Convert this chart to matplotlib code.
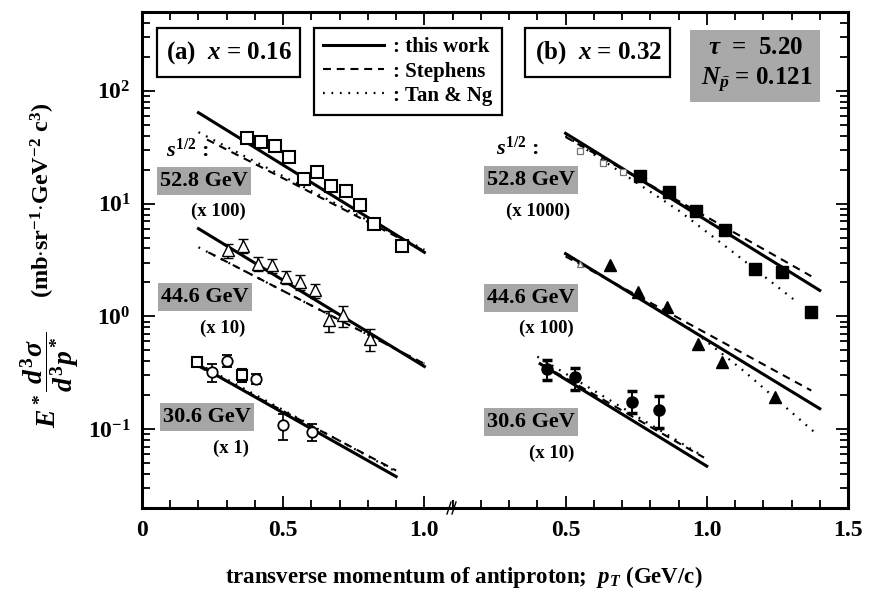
import math

import matplotlib
matplotlib.use("Agg")
import matplotlib.pyplot as plt
from matplotlib.lines import Line2D
from matplotlib.patches import Rectangle
from matplotlib.ticker import FixedLocator, FuncFormatter, LogLocator, MultipleLocator, NullFormatter

plt.rcParams["font.family"] = ["Liberation Serif", "DejaVu Serif"]
plt.rcParams["font.weight"] = "bold"
plt.rcParams["mathtext.fontset"] = "custom"
plt.rcParams["mathtext.rm"] = "Liberation Serif:bold"
plt.rcParams["mathtext.it"] = "Liberation Serif:italic:bold"
plt.rcParams["mathtext.bf"] = "Liberation Serif:bold"

W, H = 886, 596

# ---- panel (a): x_F = 0.16 -------------------------------------------------
# sqrt(s) = 52.8 GeV (scaled x 100)
a528_pt = [0.371, 0.422, 0.472, 0.519, 0.572, 0.619, 0.670, 0.722, 0.773, 0.820, 0.921]
a528_ed = [37.9, 34.9, 32.6, 25.7, 16.5, 18.9, 14.2, 13.0, 9.75, 6.6, 4.25]

# sqrt(s) = 44.6 GeV (scaled x 10)
a446_pt = [0.306, 0.359, 0.412, 0.460, 0.511, 0.560, 0.613, 0.661, 0.712, 0.809]
a446_ed = [3.84, 4.25, 2.93, 2.83, 2.23, 2.01, 1.70, 0.92, 1.02, 0.635]
a446_err = [0.55, 0.60, 0.40, 0.40, 0.30, 0.30, 0.25, 0.20, 0.22, 0.14]

# sqrt(s) = 30.6 GeV (x 1), two data sets
a306_sq_pt = [0.194, 0.353]
a306_sq_ed = [0.394, 0.300]
a306_sq_err = [0.03, 0.04]
a306_ci_pt = [0.247, 0.300, 0.404, 0.501, 0.602]
a306_ci_ed = [0.321, 0.403, 0.281, 0.108, 0.0946]
a306_ci_err = [0.06, 0.05, 0.03, 0.028, 0.016]

# model curves: (pT values, invariant cross section)
a528_fits = {"this": ([0.20, 1.00], [64.0, 3.7]),
             "steph": ([0.23, 0.54, 1.00], [37.0, 14.9, 3.8]),
             "tan": ([0.20, 1.00], [43.0, 3.9])}
a446_fits = {"this": ([0.20, 1.00], [6.0, 0.36]),
             "steph": ([0.235, 1.00], [3.7, 0.38]),
             "tan": ([0.20, 1.00], [4.1, 0.38])}
a306_fits = {"this": ([0.20, 0.90], [0.37, 0.038]),
             "steph": ([0.20, 0.90], [0.36, 0.043]),
             "tan": ([0.20, 0.90], [0.38, 0.042])}

# ---- panel (b): x_F = 0.32 -------------------------------------------------
b528_pt = [0.764, 0.867, 0.962, 1.065, 1.171, 1.265, 1.369]
b528_ed = [17.7, 12.8, 8.67, 5.85, 2.64, 2.47, 1.09]
b528_low_pt = [0.551, 0.634, 0.704]
b528_low_ed = [29.4, 22.8, 19.2]

b446_pt = [0.657, 0.758, 0.858, 0.970, 1.053, 1.242]
b446_ed = [2.83, 1.64, 1.21, 0.573, 0.394, 0.193]
b446_low_pt = [0.551]
b446_low_ed = [2.92]

b306_pt = [0.433, 0.533, 0.734, 0.832]
b306_ed = [0.344, 0.290, 0.175, 0.149]
b306_lo = [0.072, 0.069, 0.036, 0.047]
b306_hi = [0.064, 0.062, 0.041, 0.046]

b528_fits = {"this": ([0.50, 1.40], [42.0, 1.7]),
             "steph": ([0.50, 1.37], [39.0, 2.27]),
             "tan": ([0.50, 0.90, 1.10, 1.31], [40.0, 8.7, 3.6, 1.4])}
b446_fits = {"this": ([0.50, 1.40], [3.6, 0.152]),
             "steph": ([0.50, 1.37], [3.4, 0.22]),
             "tan": ([0.50, 0.95, 1.13, 1.39], [3.6, 0.75, 0.33, 0.09])}
b306_fits = {"this": ([0.41, 1.00], [0.38, 0.047]),
             "steph": ([0.42, 0.99], [0.37, 0.056]),
             "tan": ([0.40, 0.99], [0.44, 0.057])}

MODEL_LABELS = {"this": ": this work", "steph": ": Stephens", "tan": ": Tan & Ng"}
MODEL_STYLE = {
    "this": dict(color="black", lw=2.2, ls="-"),
    "steph": dict(color="black", lw=1.5, dashes=(3.8, 2.8)),
    "tan": dict(color="black", lw=1.6, dashes=(0.8, 3.0)),
}


def fig_xy(x, y):
    return x / W, 1 - y / H


def draw_fits(ax, fits):
    for key, (xs, ys) in fits.items():
        ax.plot(xs, ys, zorder=2, **MODEL_STYLE[key])


def style_axes(ax, side):
    ax.set_yscale("log")
    ax.set_ylim(0.02, 500)
    for sp in ax.spines.values():
        sp.set_linewidth(2.2)
    ax.yaxis.set_major_locator(FixedLocator([0.1, 1, 10, 100]))
    ax.yaxis.set_minor_locator(LogLocator(base=10, subs=range(2, 10), numticks=20))
    ax.yaxis.set_minor_formatter(NullFormatter())
    ax.xaxis.set_minor_locator(MultipleLocator(0.1))
    ax.tick_params(which="both", direction="in", top=True, width=1.3, labelsize=17)
    ax.tick_params(axis="x", pad=9)
    ax.tick_params(axis="y", pad=8)
    ax.tick_params(which="major", length=9)
    ax.tick_params(which="minor", length=6)
    if side == "left":
        ax.spines["right"].set_visible(False)
        ax.tick_params(which="both", right=False, left=True)
        ax.yaxis.set_major_formatter(FuncFormatter(lambda v, p: r"$10^{%d}$" % round(math.log10(v))))
    else:
        ax.spines["left"].set_visible(False)
        ax.tick_params(which="both", left=False, right=True, labelleft=False)
    ax.xaxis.set_major_formatter(FuncFormatter(lambda v, p: "0" if abs(v) < 1e-9 else f"{v:.1f}"))


fig = plt.figure(figsize=(W / 100, H / 100), dpi=100)
ax_a = fig.add_axes([142 / W, 88 / H, 310.6 / W, 496 / H])
ax_b = fig.add_axes([452.6 / W, 88 / H, 395.4 / W, 496 / H])
style_axes(ax_a, "left")
style_axes(ax_b, "right")
ax_a.set_xlim(0, 1.1)
ax_a.xaxis.set_major_locator(FixedLocator([0, 0.5, 1.0]))
ax_b.set_xlim(0.1, 1.5)
ax_b.xaxis.set_major_locator(FixedLocator([0.5, 1.0, 1.5]))

# panel (a)
for fits in (a528_fits, a446_fits, a306_fits):
    draw_fits(ax_a, fits)
ax_a.plot(a528_pt, a528_ed, ls="none", marker="s", ms=8.5, mfc="white", mec="black", mew=1.5, zorder=4)
ax_a.errorbar(a446_pt, a446_ed, yerr=a446_err, fmt="^", ms=8, mfc="white", mec="black", mew=1.0,
              ecolor="black", elinewidth=1.2, capsize=3.5, capthick=2.5, zorder=4)
ax_a.errorbar(a306_sq_pt, a306_sq_ed, yerr=a306_sq_err, fmt="s", ms=7.5, mfc="white", mec="black", mew=1.5,
              ecolor="black", elinewidth=1.2, capsize=3.5, capthick=2.5, zorder=4)
ax_a.errorbar(a306_ci_pt, a306_ci_ed, yerr=a306_ci_err, fmt="o", ms=7.5, mfc="white", mec="black", mew=1.3,
              ecolor="black", elinewidth=1.2, capsize=3.5, capthick=2.5, zorder=4)

# panel (b)
for fits in (b528_fits, b446_fits, b306_fits):
    draw_fits(ax_b, fits)
ax_b.plot(b528_low_pt, b528_low_ed, ls="none", marker="s", ms=5, mfc="white", mec="0.45", mew=0.9, zorder=3)
ax_b.plot(b446_low_pt, b446_low_ed, ls="none", marker="^", ms=5, mfc="white", mec="0.45", mew=0.9, zorder=3)
ax_b.plot(b528_pt, b528_ed, ls="none", marker="s", ms=9, color="black", zorder=4)
ax_b.plot(b446_pt, b446_ed, ls="none", marker="^", ms=8.5, color="black", zorder=4)
ax_b.errorbar(b306_pt, b306_ed, yerr=[b306_lo, b306_hi], fmt="o", ms=8, color="black",
              elinewidth=1.4, capsize=3.5, capthick=2.5, zorder=4)

# broken-axis mark
for dx in (-3, 2):
    fig.add_artist(Line2D([(452 + dx - 2) / W, (452 + dx + 2) / W], [1 - 514 / H, 1 - 502 / H],
                          color="black", lw=1.0))


def frame(x0, y0, x1, y1, face="white", edge="black"):
    fig.add_artist(Rectangle(fig_xy(x0, y1), (x1 - x0) / W, (y1 - y0) / H, transform=fig.transFigure,
                             facecolor=face, edgecolor=edge, lw=1.6, zorder=5))


frame(157, 28, 300, 77)
fig.text(*fig_xy(229, 53), r"(a)  $x$ = 0.16", ha="center", va="center", fontsize=18, zorder=6)
frame(525, 28, 670, 77)
fig.text(*fig_xy(598, 53), r"(b)  $x$ = 0.32", ha="center", va="center", fontsize=18, zorder=6)
frame(690, 30, 820, 102, face="#a9a9a9", edge="none")
fig.text(*fig_xy(756, 47), r"$\tau$  =  5.20", ha="center", va="center", fontsize=18, zorder=6)
fig.text(*fig_xy(757, 80), r"$N_{\bar{p}}$ = 0.121", ha="center", va="center", fontsize=18, zorder=6)

# legend for the three model curves
handles = [Line2D([], [], **MODEL_STYLE[k]) for k in ("this", "steph", "tan")]
leg = fig.legend(handles, [MODEL_LABELS[k] for k in ("this", "steph", "tan")],
                 loc="upper left", bbox_to_anchor=fig_xy(314, 28), borderaxespad=0,
                 fontsize=15, handlelength=2.9, handletextpad=0.45, labelspacing=0.2,
                 fancybox=False, framealpha=1, edgecolor="black", borderpad=0.45)
leg.get_frame().set_linewidth(1.6)

# energy labels
ENERGY_TAGS = [
    (204, 181, "52.8 GeV", 218, 211, "(x 100)"),
    (205, 297, "44.6 GeV", 223, 328, "(x 10)"),
    (207, 417, "30.6 GeV", 231, 448, "(x 1)"),
    (531, 180, "52.8 GeV", 538, 211, "(x 1000)"),
    (531, 298, "44.6 GeV", 546, 328, "(x 100)"),
    (531, 422, "30.6 GeV", 552, 453, "(x 10)"),
]
for bx, by, tag, sx, sy, scale in ENERGY_TAGS:
    fig.text(*fig_xy(bx, by), tag, ha="center", va="center", fontsize=16, zorder=6,
             bbox=dict(facecolor="#a6a6a6", edgecolor="none", pad=2.5))
    fig.text(*fig_xy(sx, sy), scale, ha="center", va="center", fontsize=13.5)

fig.text(*fig_xy(188, 150), r"$s^{1/2}$ :", ha="center", va="center", fontsize=16)
fig.text(*fig_xy(518, 148), r"$s^{1/2}$ :", ha="center", va="center", fontsize=16)

# y-axis title: invariant cross section and its units
fig.text(*fig_xy(50, 380), r"$E^*\dfrac{d^3\sigma}{d^3p^*}$",
         rotation=90, ha="center", va="center", fontsize=20)
fig.text(*fig_xy(43, 200), r"(mb$\cdot$sr$^{-1}$$\cdot$GeV$^{-2}$ c$^3$)",
         rotation=90, ha="center", va="center", fontsize=17.5)
fig.text(*fig_xy(464, 577), r"transverse momentum of antiproton;  $p_T$ (GeV/c)",
         ha="center", va="center", fontsize=16.5)

fig.savefig("out.png", dpi=100)
